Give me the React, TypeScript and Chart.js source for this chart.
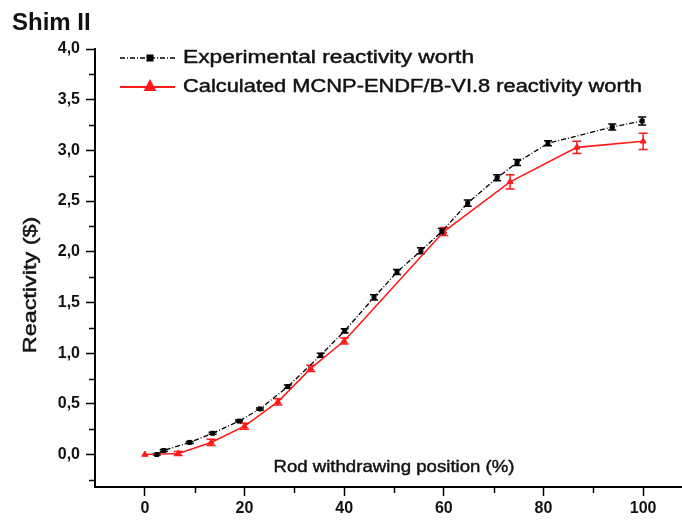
import { useEffect, useRef } from "react";
import { Chart, registerables } from "chart.js";

Chart.register(...registerables);

const FONT = '"Liberation Sans", Arial, Helvetica, sans-serif';

const titleText = "Shim II";
const xTitle = "Rod withdrawing position (%)";
const yTitle = "Reactivity ($)";
const expLabel = "Experimental reactivity worth";
const calcLabel = "Calculated MCNP-ENDF/B-VI.8 reactivity worth";

const expX = [2.4, 3.8, 9, 13.6, 18.9, 23.1, 28.7, 35.3, 40.1, 46, 50.6, 55.4, 59.6, 64.8, 70.7, 74.7, 80.9, 93.8, 99.8];
const expY = [0.0, 0.04, 0.12, 0.21, 0.33, 0.45, 0.67, 0.98, 1.22, 1.55, 1.8, 2.01, 2.2, 2.48, 2.73, 2.88, 3.07, 3.23, 3.29];
const expErr = [0.005, 0.01, 0.01, 0.01, 0.01, 0.01, 0.015, 0.02, 0.02, 0.025, 0.025, 0.03, 0.03, 0.03, 0.03, 0.03, 0.025, 0.03, 0.04];

const calcX = [0, 6.7, 13.3, 20, 26.7, 33.3, 40, 60, 73.3, 86.7, 100];
const calcY = [0.0, 0.01, 0.12, 0.28, 0.52, 0.85, 1.12, 2.2, 2.69, 3.03, 3.09];
const calcErr = [0, 0.02, 0.03, 0.03, 0.03, 0.03, 0.03, 0.04, 0.07, 0.06, 0.08];

const xMajor = [0, 20, 40, 60, 80, 100];
const xMinor = [10, 30, 50, 70, 90];
const yMajor = [0, 0.5, 1, 1.5, 2, 2.5, 3, 3.5, 4];
const yMinor = [-0.25, 0.25, 0.75, 1.25, 1.75, 2.25, 2.75, 3.25, 3.75];

const X_MIN = -10;
const X_MAX = 107.8;
const Y_MIN = -0.32;
const Y_MAX = 4.0;

const BLACK_DASH = [5, 2, 1, 2];
const RED = "#ff1a1a";

function stretchedText(ctx: any, text: string, x: number, y: number, sx: number) {
  ctx.save();
  ctx.translate(x, y);
  ctx.scale(sx, 1);
  ctx.fillText(text, 0, 0);
  ctx.lineWidth = 0.45;
  ctx.strokeStyle = ctx.fillStyle;
  ctx.strokeText(text, 0, 0);
  ctx.restore();
}

const decor = {
  id: "decor",
  beforeDatasetsDraw(chart: any) {
    const ctx = chart.ctx;
    const xs = chart.scales.x;
    const ys = chart.scales.y;
    const sets = [
      { x: expX, y: expY, e: expErr, c: "#000", hw: 4 },
      { x: calcX, y: calcY, e: calcErr, c: RED, hw: 4.5 },
    ];
    ctx.save();
    for (const s of sets) {
      ctx.strokeStyle = s.c;
      ctx.lineWidth = 1.5;
      ctx.setLineDash([]);
      for (let i = 0; i < s.x.length; i++) {
        if (!s.e[i]) continue;
        const px = xs.getPixelForValue(s.x[i]);
        const y1 = ys.getPixelForValue(s.y[i] + s.e[i]);
        const y2 = ys.getPixelForValue(s.y[i] - s.e[i]);
        ctx.beginPath();
        ctx.moveTo(px, y1);
        ctx.lineTo(px, y2);
        ctx.moveTo(px - s.hw, y1);
        ctx.lineTo(px + s.hw, y1);
        ctx.moveTo(px - s.hw, y2);
        ctx.lineTo(px + s.hw, y2);
        ctx.stroke();
      }
    }
    ctx.restore();
  },
  afterDraw(chart: any) {
    const ctx = chart.ctx;
    const xs = chart.scales.x;
    const ys = chart.scales.y;
    const area = chart.chartArea;
    ctx.save();
    // minor ticks
    ctx.strokeStyle = "#000";
    ctx.lineWidth = 1.5;
    ctx.beginPath();
    for (const v of xMinor) {
      const px = Math.round(xs.getPixelForValue(v)) + 0.5;
      ctx.moveTo(px, area.bottom);
      ctx.lineTo(px, area.bottom + 6);
    }
    for (const v of yMinor) {
      const py = Math.round(ys.getPixelForValue(v)) + 0.5;
      ctx.moveTo(area.left, py);
      ctx.lineTo(area.left - 6, py);
    }
    ctx.stroke();

    ctx.fillStyle = "#111";
    // title
    ctx.font = `bold 24px ${FONT}`;
    ctx.textAlign = "left";
    ctx.textBaseline = "alphabetic";
    ctx.fillText(titleText, 12, 30);

    // x title inside plot
    ctx.font = `17px ${FONT}`;
    ctx.textAlign = "center";
    stretchedText(ctx, xTitle, xs.getPixelForValue(50), 472, 1.095);

    // y title
    ctx.save();
    ctx.translate(36, 285);
    ctx.rotate(-Math.PI / 2);
    ctx.font = `18px ${FONT}`;
    ctx.textAlign = "center";
    stretchedText(ctx, yTitle, 0, 0, 1.3);
    ctx.restore();

    // legend
    const lx0 = 120;
    const lx1 = 175;
    const mx = 150;
    // experimental
    ctx.strokeStyle = "#000";
    ctx.lineWidth = 1.4;
    ctx.setLineDash(BLACK_DASH);
    ctx.beginPath();
    ctx.moveTo(lx0, 58);
    ctx.lineTo(lx1, 58);
    ctx.stroke();
    ctx.setLineDash([]);
    ctx.fillStyle = "#000";
    ctx.fillRect(mx - 3.5, 54.5, 7, 7);
    // calculated
    ctx.strokeStyle = RED;
    ctx.lineWidth = 1.8;
    ctx.beginPath();
    ctx.moveTo(lx0, 87);
    ctx.lineTo(lx1, 87);
    ctx.stroke();
    ctx.fillStyle = RED;
    ctx.beginPath();
    ctx.moveTo(mx, 79);
    ctx.lineTo(mx + 6.5, 91);
    ctx.lineTo(mx - 6.5, 91);
    ctx.closePath();
    ctx.fill();

    ctx.fillStyle = "#111";
    ctx.font = `18px ${FONT}`;
    ctx.textAlign = "left";
    ctx.textBaseline = "middle";
    stretchedText(ctx, expLabel, 183, 58, 1.265);
    stretchedText(ctx, calcLabel, 183, 87, 1.214);
    ctx.restore();
  },
};

export default function App() {
  const ref = useRef<HTMLCanvasElement | null>(null);

  useEffect(() => {
    if (!ref.current) return;
    const chart = new Chart(ref.current, {
      type: "scatter",
      data: {
        datasets: [
          {
            label: expLabel,
            data: expX.map((x, i) => ({ x, y: expY[i] })),
            showLine: true,
            borderColor: "#000",
            borderWidth: 1.3,
            borderDash: BLACK_DASH,
            tension: 0,
            pointStyle: "rect",
            pointRadius: 2.8,
            pointBackgroundColor: "#000",
            pointBorderColor: "#000",
            pointBorderWidth: 1,
          },
          {
            label: calcLabel,
            data: calcX.map((x, i) => ({ x, y: calcY[i] })),
            showLine: true,
            borderColor: RED,
            borderWidth: 1.6,
            tension: 0,
            pointStyle: "triangle",
            pointRadius: 3.5,
            pointBackgroundColor: RED,
            pointBorderColor: RED,
            pointBorderWidth: 1,
          },
        ],
      },
      options: {
        responsive: false,
        animation: false,
        devicePixelRatio: 1,
        layout: { autoPadding: false, padding: { top: 49, left: 0, right: 0, bottom: 0 } },
        plugins: {
          legend: { display: false },
          tooltip: { enabled: false },
          title: { display: false },
        },
        scales: {
          x: {
            type: "linear",
            min: X_MIN,
            max: X_MAX,
            border: { display: true, color: "#000", width: 2 },
            grid: {
              drawOnChartArea: false,
              drawTicks: true,
              tickLength: 9,
              tickColor: "#000",
              tickWidth: 1.5,
            },
            ticks: {
              autoSkip: false,
              maxRotation: 0,
              padding: 3,
              color: "#111",
              font: { family: FONT, size: 16, weight: "bold" },
              callback: (v: any) => String(v),
            },
            afterBuildTicks: (s: any) => {
              s.ticks = xMajor.map((v) => ({ value: v }));
            },
            afterFit: (s: any) => {
              s.height = 37;
              s.paddingLeft = 0;
              s.paddingRight = 0;
            },
          },
          y: {
            type: "linear",
            min: Y_MIN,
            max: Y_MAX,
            border: { display: true, color: "#000", width: 2 },
            grid: {
              drawOnChartArea: false,
              drawTicks: true,
              tickLength: 9,
              tickColor: "#000",
              tickWidth: 1.5,
            },
            ticks: {
              autoSkip: false,
              padding: 6,
              color: "#111",
              font: { family: FONT, size: 16, weight: "bold" },
              callback: (v: any) => Number(v).toFixed(1).replace(".", ","),
            },
            afterBuildTicks: (s: any) => {
              s.ticks = yMajor.map((v) => ({ value: v }));
            },
            afterFit: (s: any) => {
              s.width = 95;
              s.paddingTop = 0;
              s.paddingBottom = 0;
            },
          },
        },
      },
      plugins: [decor],
    } as any);
    return () => chart.destroy();
  }, []);

  return (
    <div style={{ position: "fixed", left: 0, top: 0, width: 682, height: 524, background: "#fff" }}>
      <canvas ref={ref} width={682} height={524} style={{ display: "block", width: 682, height: 524 }} />
    </div>
  );
}
